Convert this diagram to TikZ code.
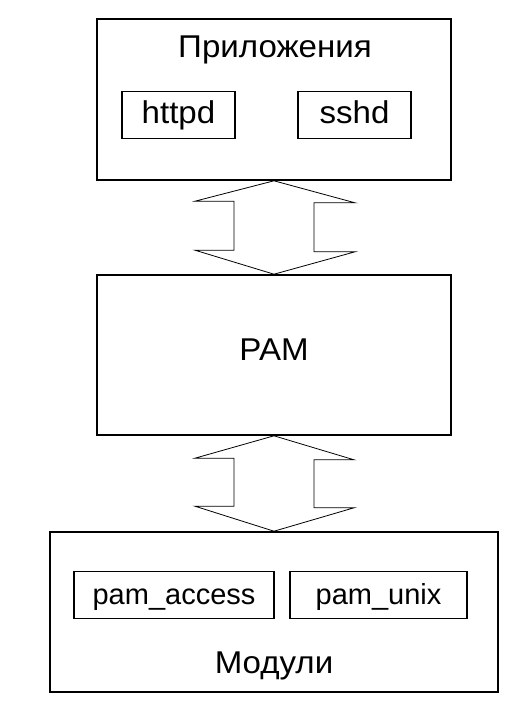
\documentclass[tikz,border=0pt]{standalone}
\usepackage{fontspec}
\setmainfont{Liberation Sans}
\newfontfamily\widesans[FakeStretch=1.05]{Liberation Sans}
\begin{document}
\begin{tikzpicture}[x=1pt,y=-1pt,
  outerbox/.style={draw,line width=1.6pt,minimum width=354pt,minimum height=160pt,inner sep=0pt},
  innerbox/.style={draw,line width=1.6pt,minimum height=47pt,inner sep=0pt},
  bigtxt/.style={font=\widesans\fontsize{31.5}{35}\selectfont},
  smalltxt/.style={font=\fontsize{29}{33}\selectfont},
  lbl/.style={inner sep=0pt,anchor=base,bigtxt},
  dblarrow/.style={draw,line width=0.8pt,line join=miter}]
\useasboundingbox (0,0) rectangle (520,704);
\node[outerbox,minimum height=161pt] (app) at (274,99.5) {};
\node[lbl] (apptxt) at (275,57) {Приложения};
\node[innerbox,bigtxt,minimum width=113pt,text height=20pt,text depth=4pt] (httpd) at (178.5,115) {httpd};
\node[innerbox,bigtxt,minimum width=113pt,text height=20pt,text depth=4pt] (sshd) at (354.5,115) {sshd};
\node[outerbox,bigtxt,text height=14pt,text depth=4pt] (pam) at (274,355) {PAM};
\node[outerbox,minimum width=448pt] (mod) at (274,612) {};
\node[innerbox,smalltxt,minimum width=200pt,text height=22pt,text depth=4pt] (acc) at (174,595) {pam\_access};
\node[innerbox,smalltxt,minimum width=177pt,text height=22pt,text depth=4pt] (unix) at (378.5,595) {pam\_unix};
\node[lbl] (modtxt) at (274,673) {Модули};
\draw[dblarrow] (app.south) -- ++(81,22) -- ++(-41,0) -- ++(0,49) -- ++(41,0)
  -- (pam.north) -- ++(-79,-24) -- ++(39,0) -- ++(0,-49) -- ++(-39,0) -- cycle;
\draw[dblarrow] (pam.south) -- ++(80,24) -- ++(-40,0) -- ++(0,48) -- ++(40,0)
  -- (mod.north) -- ++(-79,-25) -- ++(39,0) -- ++(0,-48) -- ++(-39,0) -- cycle;
\end{tikzpicture}
\end{document}
